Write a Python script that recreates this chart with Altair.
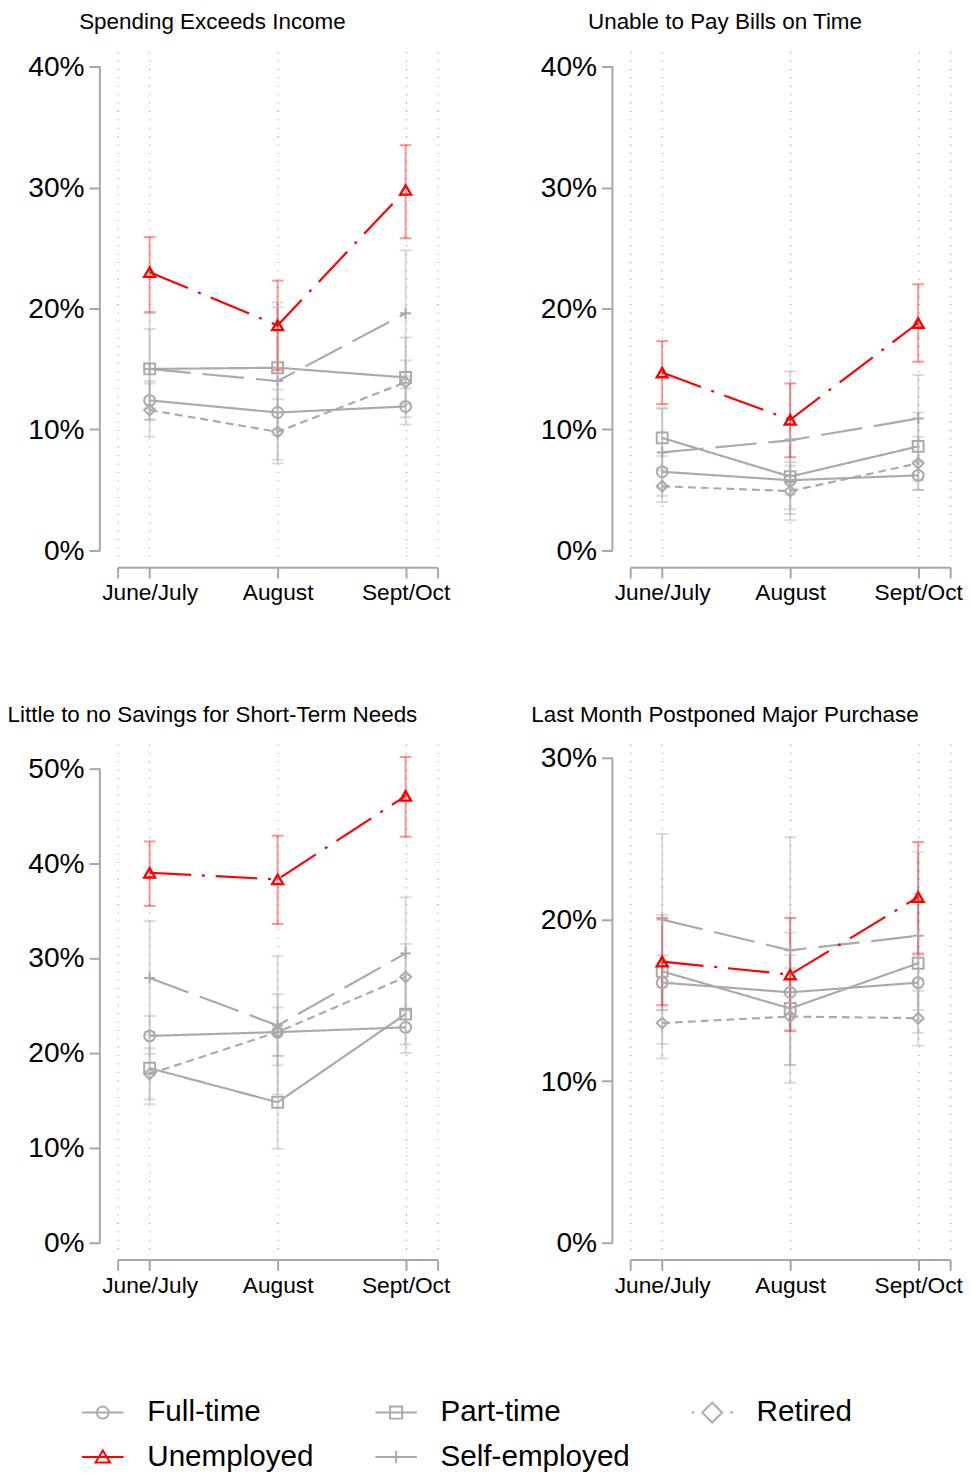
import altair as alt
import pandas as pd

FONT = "Liberation Sans"
GRAY = "#aaaaaa"
RED = "#ff0000"
AXC = "#a6a6a6"

waves = ["June/July", "August", "Sept/Oct"]
series = ["Full-time", "Part-time", "Retired", "Unemployed", "Self-employed"]
draw_order = ["Full-time", "Part-time", "Retired", "Self-employed", "Unemployed"]
panel_titles = [
    "Spending Exceeds Income",
    "Unable to Pay Bills on Time",
    "Little to no Savings for Short-Term Needs",
    "Last Month Postponed Major Purchase",
]

# values in percent, one row per series (order of `series`), one column per wave
p1_val = [[12.4, 11.4, 11.9], [15.0, 15.1, 14.3], [11.6, 9.8, 13.9], [23.0, 18.6, 29.8], [15.0, 14.0, 19.6]]
p1_lo = [[10.8, 9.5, 10.4], [11.7, 10.0, 11.0], [9.4, 7.2, 12.1], [19.7, 14.9, 25.8], [10.8, 7.5, 14.4]]
p1_hi = [[14.0, 13.3, 13.4], [18.3, 20.5, 17.6], [13.8, 12.5, 15.7], [25.9, 22.3, 33.5], [19.6, 20.1, 24.8]]

p2_val = [[6.5, 5.8, 6.2], [9.3, 6.1, 8.6], [5.3, 4.9, 7.2], [14.7, 10.8, 18.8], [8.1, 9.1, 10.9]]
p2_lo = [[5.2, 4.6, 5.0], [6.8, 3.0, 5.8], [4.0, 2.5, 5.0], [12.1, 7.7, 15.6], [4.5, 3.4, 7.3]]
p2_hi = [[7.8, 7.0, 7.4], [11.8, 9.2, 11.4], [6.6, 7.3, 9.4], [17.3, 13.8, 22.0], [11.7, 14.8, 14.5]]

p3_val = [[21.8, 22.2, 22.7], [18.4, 14.8, 24.1], [17.8, 22.2, 28.0], [39.0, 38.3, 47.1], [27.9, 22.9, 30.5]]
p3_lo = [[19.9, 19.7, 20.9], [14.6, 9.9, 20.0], [15.1, 18.7, 24.5], [35.5, 33.6, 42.8], [21.9, 15.6, 24.6]]
p3_hi = [[23.9, 24.8, 24.5], [22.2, 19.7, 28.2], [20.5, 26.2, 31.5], [42.3, 42.9, 51.2], [33.9, 30.2, 36.4]]

p4_val = [[16.1, 15.5, 16.1], [16.8, 14.5, 17.3], [13.6, 14.0, 13.9], [17.4, 16.6, 21.4], [20.0, 18.1, 19.0]]
p4_lo = [[14.4, 13.2, 14.4], [12.3, 9.9, 13.0], [11.4, 11.0, 12.2], [14.7, 13.1, 17.9], [14.4, 11.0, 13.8]]
p4_hi = [[17.8, 17.8, 17.8], [20.3, 19.2, 21.6], [15.8, 17.0, 15.6], [20.1, 20.1, 24.8], [25.3, 25.1, 24.2]]

p1_ticks = [0, 10, 20, 30, 40]
p2_ticks = [0, 10, 20, 30, 40]
p3_ticks = [0, 10, 20, 30, 40, 50]
p4_ticks = [0, 10, 20, 30]

# styles
colors = [GRAY, GRAY, GRAY, RED, GRAY]
shapes = ["circle", "square", "diamond", "triangle-up", "M-1,0H1M0,-1V1"]
sizes = [121, 121, 200, 190, 110]
dashes = [[1, 0], [1, 0], [8, 5], [42, 11, 3, 11], [42, 12]]
legend_paths = [
    "M-1,0H1M0.29,0A0.29 0.29 0 1 1 -0.29,0A0.29 0.29 0 1 1 0.29,0",
    "M-1,0H1M-0.29,-0.29H0.29V0.29H-0.29Z",
    "M-1,0H-0.86M0.86,0H1M-0.48,0L0,-0.48L0.48,0L0,0.48Z",
    "M-1,0H1M0,-0.32L0.35,0.26L-0.35,0.26Z",
    "M-1,0H1M0,-0.3V0.3",
]

x_label_expr = " : ".join(
    f"datum.value == {i + 1} ? '{w}'" for i, w in enumerate(waves)
) + " : ''"


def build_df(val, lo, hi):
    rows = []
    for s in draw_order:
        k = series.index(s)
        for i in range(3):
            rows.append({"series": s, "t": i + 1, "v": val[k][i], "lo": lo[k][i], "hi": hi[k][i]})
    return pd.DataFrame(rows)


color_enc = alt.Color("series:N", scale=alt.Scale(domain=series, range=colors), legend=None)
shape_enc = alt.Shape("series:N", scale=alt.Scale(domain=series, range=shapes), legend=None)
size_enc = alt.Size("series:N", scale=alt.Scale(domain=series, range=sizes), legend=None)
dash_enc = alt.StrokeDash("series:N", scale=alt.Scale(domain=series, range=dashes), legend=None)


def panel(val, lo, hi, title, ticks, ydom, height=514):
    df = build_df(val, lo, hi)
    base = alt.Chart(df)
    xaxis = alt.Axis(
        values=[0.75, 1, 2, 3, 3.25], labelExpr=x_label_expr, grid=True, gridDash=[1, 7.5],
        gridColor="#808080", gridWidth=1, domainColor=AXC, domainWidth=2, tickColor=AXC,
        tickWidth=2, tickSize=11, offset=8, labelFont=FONT, labelFontSize=23, labelColor="black",
        labelPadding=4, labelFlush=False, labelOverlap=False, title=None,
    )
    yaxis = alt.Axis(
        values=ticks, labelExpr="datum.value + '%'", domain=False, grid=False, tickColor=AXC,
        tickWidth=2, tickSize=11, offset=18, labelFont=FONT, labelFontSize=28.5, labelColor="black",
        labelPadding=5, labelFlush=False, labelOverlap=False, title=None,
    )
    xs = alt.Scale(domain=[0.75, 3.25], nice=False, zero=False)
    ys = alt.Scale(domain=ydom, nice=False, zero=False)
    X = alt.X("t:Q", scale=xs, axis=xaxis)

    axis_line = alt.Chart(pd.DataFrame({"a": [ticks[0]], "b": [ticks[-1]]})).mark_rule(
        color=AXC, strokeWidth=2
    ).encode(x=alt.value(-18), y=alt.Y("a:Q", scale=ys, axis=yaxis), y2="b:Q")

    err = base.mark_rule(strokeWidth=2, opacity=0.42).encode(
        x=X, y=alt.Y("lo:Q", scale=ys, axis=yaxis), y2="hi:Q", color=color_enc
    )
    cap_lo = base.mark_rule(strokeWidth=2, opacity=0.42, xOffset=-6, x2Offset=6).encode(
        x=X, x2="t:Q", y=alt.Y("lo:Q", scale=ys, axis=yaxis), color=color_enc
    )
    cap_hi = base.mark_rule(strokeWidth=2, opacity=0.42, xOffset=-6, x2Offset=6).encode(
        x=X, x2="t:Q", y=alt.Y("hi:Q", scale=ys, axis=yaxis), color=color_enc
    )
    line_enc = dict(x=X, y=alt.Y("v:Q", scale=ys, axis=yaxis), color=color_enc, strokeDash=dash_enc)
    pt_enc = dict(x=X, y=alt.Y("v:Q", scale=ys, axis=yaxis), color=color_enc, shape=shape_enc, size=size_enc)
    gray_line = base.transform_filter("datum.series != 'Unemployed'").mark_line(strokeWidth=2.2).encode(**line_enc)
    gray_pts = base.transform_filter("datum.series != 'Unemployed'").mark_point(
        filled=False, strokeWidth=2, opacity=1).encode(**pt_enc)
    red_line = base.transform_filter("datum.series == 'Unemployed'").mark_line(strokeWidth=2.2).encode(**line_enc)
    red_pts = base.transform_filter("datum.series == 'Unemployed'").mark_point(
        filled=False, strokeWidth=2.4, opacity=1).encode(**pt_enc)

    return alt.layer(axis_line, err, cap_lo, cap_hi, gray_line, gray_pts, red_line, red_pts).properties(
        width=324, height=height,
        title=alt.TitleParams(title, font=FONT, fontSize=22.7, fontWeight="normal", color="black",
                              anchor="middle", dx=-66, offset=18),
    )


c1 = panel(p1_val, p1_lo, p1_hi, panel_titles[0], p1_ticks, [-0.74, 41.23])
c2 = panel(p2_val, p2_lo, p2_hi, panel_titles[1], p2_ticks, [-0.74, 41.23])
c3 = panel(p3_val, p3_lo, p3_hi, panel_titles[2], p3_ticks, [-0.94, 52.57])
c4 = panel(p4_val, p4_lo, p4_hi, panel_titles[3], p4_ticks, [-0.55, 30.87])

# legend-only view: its marks are filtered out, only the legend is drawn
leg = alt.Legend(
    orient="none", legendX=-37, legendY=-46, columns=3, direction="horizontal", title=None,
    labelFont=FONT, labelFontSize=30, labelColor="black", labelLimit=0,
    symbolSize=1764, labelOffset=23, columnPadding=58, rowPadding=8, padding=0,
    symbolStrokeWidth=2, symbolOpacity=1, symbolFillColor="transparent",
)
legend_chart = alt.Chart(pd.DataFrame({"series": series})).transform_filter("false").mark_point(
    filled=False, strokeWidth=2, opacity=1
).encode(
    x=alt.X("series:N", axis=None),
    color=alt.Color("series:N", scale=alt.Scale(domain=series, range=colors), legend=leg),
    shape=alt.Shape("series:N", scale=alt.Scale(domain=series, range=legend_paths), legend=leg),
).properties(width=324, height=1)

chart = alt.concat(
    c1, c2, c3, c4, legend_chart, columns=2,
    spacing=alt.RowColnumber(row=187, column=195), bounds="flush",
).resolve_scale(
    color="independent", shape="independent", x="independent", y="independent"
).properties(
    padding={"left": -1, "top": -6, "right": 0, "bottom": 0}
).configure(background="white", view=alt.ViewConfig(stroke=None))

chart.save("out.html", embed_options={"renderer": "svg", "actions": False})
